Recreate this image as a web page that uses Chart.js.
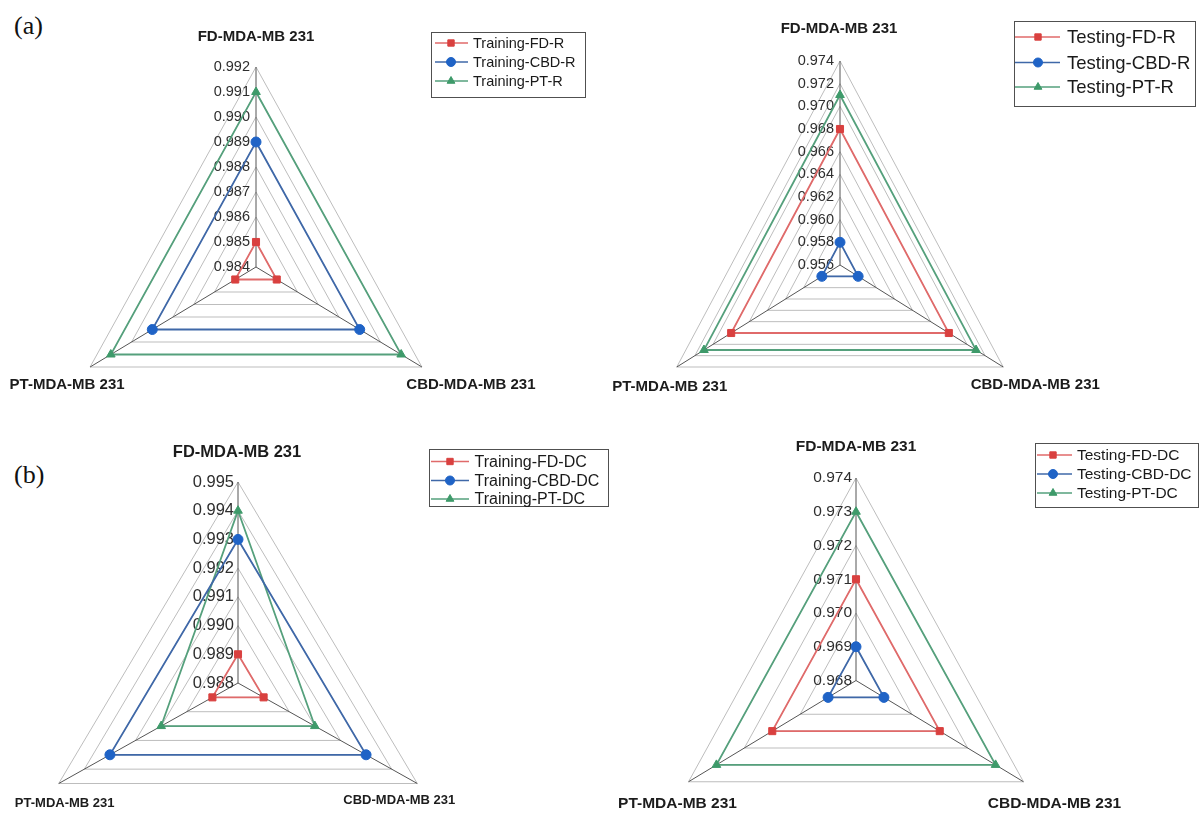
<!DOCTYPE html>
<html>
<head>
<meta charset="utf-8">
<script src="https://cdn.jsdelivr.net/npm/chart.js@4.4.0/dist/chart.umd.min.js"></script>
<style>
  body { margin: 0; background: #fff; width: 1199px; height: 814px; position: relative; overflow: hidden; }
  .box { position: absolute; }
  .tag { position: absolute; font-family: "Liberation Serif", "Times New Roman", serif; font-size: 26px; line-height: 26px; color: #111; }
</style>
</head>
<body>
<div class="tag" style="left:14px;top:13px">(a)</div>
<div class="tag" style="left:14px;top:462px">(b)</div>
<div class="box" style="left:0;top:0"><canvas id="chart_a1" width="600" height="407"></canvas></div>
<div class="box" style="left:600px;top:0"><canvas id="chart_a2" width="599" height="407"></canvas></div>
<div class="box" style="left:0;top:407px"><canvas id="chart_b1" width="615" height="407"></canvas></div>
<div class="box" style="left:600px;top:407px"><canvas id="chart_b2" width="599" height="407"></canvas></div>

<script>
// axes of every radar (clockwise from top)
var axisLabels = ['FD-MDA-MB 231', 'CBD-MDA-MB 231', 'PT-MDA-MB 231'];

// (a) training R
var trainR_names = ['Training-FD-R', 'Training-CBD-R', 'Training-PT-R'];
var trainR_FD  = [0.985, 0.985, 0.985];
var trainR_CBD = [0.989, 0.989, 0.989];
var trainR_PT  = [0.991, 0.991, 0.991];
var trainR_ticks = [0.984, 0.985, 0.986, 0.987, 0.988, 0.989, 0.990, 0.991, 0.992];

// (a) testing R
var testR_names = ['Testing-FD-R', 'Testing-CBD-R', 'Testing-PT-R'];
var testR_FD  = [0.968, 0.968, 0.968];
var testR_CBD = [0.958, 0.958, 0.958];
var testR_PT  = [0.971, 0.971, 0.971];
var testR_ticks = [0.956, 0.958, 0.960, 0.962, 0.964, 0.966, 0.968, 0.970, 0.972, 0.974];

// (b) training DC
var trainDC_names = ['Training-FD-DC', 'Training-CBD-DC', 'Training-PT-DC'];
var trainDC_FD  = [0.989, 0.989, 0.989];
var trainDC_CBD = [0.993, 0.993, 0.993];
var trainDC_PT  = [0.994, 0.991, 0.991];
var trainDC_ticks = [0.988, 0.989, 0.990, 0.991, 0.992, 0.993, 0.994, 0.995];

// (b) testing DC
var testDC_names = ['Testing-FD-DC', 'Testing-CBD-DC', 'Testing-PT-DC'];
var testDC_FD  = [0.971, 0.971, 0.971];
var testDC_CBD = [0.969, 0.969, 0.969];
var testDC_PT  = [0.973, 0.973, 0.973];
var testDC_ticks = [0.968, 0.969, 0.970, 0.971, 0.972, 0.973, 0.974];

var lineColors = ['#e06a6a', '#3f68a8', '#55a07c'];
var markColors = ['#d9403f', '#1f63c6', '#3e9a6a'];
var markStyles = ['rect', 'circle', 'triangle'];
var FONT = '"Liberation Sans", Arial, sans-serif';

/* layout of each panel: centre, radius, horizontal squash, label offsets, legend box */
var layoutA1 = {
  cx: 256, cy: 267, r: 200, sx: 0.958,
  tickSize: 14.5, tickGap: 6,
  labelSize: [15, 15, 15], labelOff: [[0, -30], [49, 18], [-23, 18]],
  legend: {x: 431, y: 32, w: 154, h: 65, rows: [43, 62, 81], line: [435, 468], mark: 451, textX: 473, size: 14.5}
};
var layoutA2 = {
  cx: 240, cy: 265, r: 204, sx: 0.924,
  tickSize: 14.5, tickGap: 6,
  labelSize: [15, 15, 15], labelOff: [[-1, -32], [32, 18], [-7, 20]],
  legend: {x: 414, y: 21, w: 181, h: 85, rows: [37, 62.5, 87], line: [415, 460], mark: 438, textX: 467, size: 18.5}
};
var layoutB1 = {
  cx: 238, cy: 276, r: 201, sx: 1.03,
  tickSize: 16.5, tickGap: 4,
  labelSize: [16.5, 13, 13], labelOff: [[-1, -30], [-18, 17], [6, 20]],
  legend: {x: 429, y: 42, w: 179, h: 57, rows: [54.5, 73.5, 92], line: [431, 469], mark: 450, textX: 474.5, size: 16}
};
var layoutB2 = {
  cx: 256, cy: 273.5, r: 202.5, sx: 0.955,
  tickSize: 15.5, tickGap: 4,
  labelSize: [15.5, 15.5, 15.5], labelOff: [[0, -31], [31, 21.5], [-11, 21.5]],
  legend: {x: 435, y: 36, w: 163, h: 64, rows: [48, 67, 86], line: [437, 472], mark: 453, textX: 477, size: 15.5}
};

// put the radial scale where the panel sits in the figure
function geometry(g) {
  return {
    id: 'geometry',
    afterLayout: function (chart) {
      var s = chart.scales.r;
      s.xCenter = g.cx;
      s.yCenter = g.cy;
      s.drawingArea = g.r;
      if (!s._basePos) {
        s._basePos = s.getPointPosition;
        s.getPointPosition = function (index, dist, extra) {
          var p = s._basePos(index, dist, extra);
          return {x: s.xCenter + (p.x - s.xCenter) * g.sx, y: p.y, angle: p.angle};
        };
      }
    }
  };
}

// tick labels on the FD axis, axis names, boxed legend
function decorations(g, ticks) {
  return {
    id: 'decorations',
    beforeDatasetsDraw: function (chart) {
      var s = chart.scales.r, ctx = chart.ctx;
      ctx.save();
      ctx.font = g.tickSize + 'px ' + FONT;
      ctx.fillStyle = '#2e2e2e';
      ctx.textAlign = 'right';
      ctx.textBaseline = 'middle';
      ticks.forEach(function (v) {
        var p = s.getPointPosition(0, s.getDistanceFromCenterForValue(v));
        ctx.fillText(v.toFixed(3), p.x - g.tickGap, p.y);
      });
      ctx.restore();
    },
    afterDraw: function (chart) {
      var s = chart.scales.r, ctx = chart.ctx, lg = g.legend;
      ctx.save();
      ctx.fillStyle = '#1c1c1c';
      ctx.textAlign = 'center';
      ctx.textBaseline = 'middle';
      chart.data.labels.forEach(function (name, i) {
        var p = s.getPointPosition(i, s.drawingArea);
        ctx.font = 'bold ' + g.labelSize[i] + 'px ' + FONT;
        ctx.fillText(name, p.x + g.labelOff[i][0], p.y + g.labelOff[i][1]);
      });

      ctx.strokeStyle = '#505050';
      ctx.lineWidth = 1;
      ctx.strokeRect(lg.x + 0.5, lg.y + 0.5, lg.w, lg.h);
      chart.data.datasets.forEach(function (ds, i) {
        var y = lg.rows[i];
        ctx.strokeStyle = ds.borderColor;
        ctx.lineWidth = 1.6;
        ctx.beginPath();
        ctx.moveTo(lg.line[0], y);
        ctx.lineTo(lg.line[1], y);
        ctx.stroke();
        ctx.fillStyle = ds.pointBackgroundColor;
        ctx.strokeStyle = ds.pointBorderColor;
        ctx.lineWidth = 1;
        Chart.helpers.drawPoint(ctx, {pointStyle: ds.pointStyle, radius: 4.5, borderWidth: 1, rotation: 0}, lg.mark, y);
        ctx.fillStyle = '#1a1a1a';
        ctx.font = lg.size + 'px ' + FONT;
        ctx.textAlign = 'left';
        ctx.fillText(ds.label, lg.textX, y + 1);
      });
      ctx.restore();
    }
  };
}

function printRadar(id, ticks, names, series, g) {
  var ctx = document.getElementById(id).getContext('2d');
  var datasets = series.map(function (values, i) {
    return {
      label: names[i],
      data: values,
      borderColor: lineColors[i],
      borderWidth: 1.8,
      fill: false,
      tension: 0,
      pointStyle: markStyles[i],
      pointRadius: 5,
      pointHoverRadius: 5,
      pointBackgroundColor: markColors[i],
      pointBorderColor: markColors[i],
      pointBorderWidth: 1
    };
  });

  new Chart(ctx, {
    type: 'radar',
    data: {labels: axisLabels, datasets: datasets},
    options: {
      responsive: false,
      animation: false,
      events: [],
      layout: {padding: 0},
      plugins: {legend: {display: false}, tooltip: {enabled: false}},
      scales: {
        r: {
          min: ticks[0],
          max: ticks[ticks.length - 1],
          afterBuildTicks: function (scale) {
            scale.ticks = ticks.map(function (v) { return {value: v}; });
          },
          ticks: {display: false},
          grid: {color: '#bdbdbd', lineWidth: 1},
          angleLines: {color: '#555555', lineWidth: 1},
          pointLabels: {display: false}
        }
      }
    },
    plugins: [geometry(g), decorations(g, ticks)]
  });
}

printRadar('chart_a1', trainR_ticks, trainR_names, [trainR_FD, trainR_CBD, trainR_PT], layoutA1);
printRadar('chart_a2', testR_ticks, testR_names, [testR_FD, testR_CBD, testR_PT], layoutA2);
printRadar('chart_b1', trainDC_ticks, trainDC_names, [trainDC_FD, trainDC_CBD, trainDC_PT], layoutB1);
printRadar('chart_b2', testDC_ticks, testDC_names, [testDC_FD, testDC_CBD, testDC_PT], layoutB2);
</script>
</body>
</html>
